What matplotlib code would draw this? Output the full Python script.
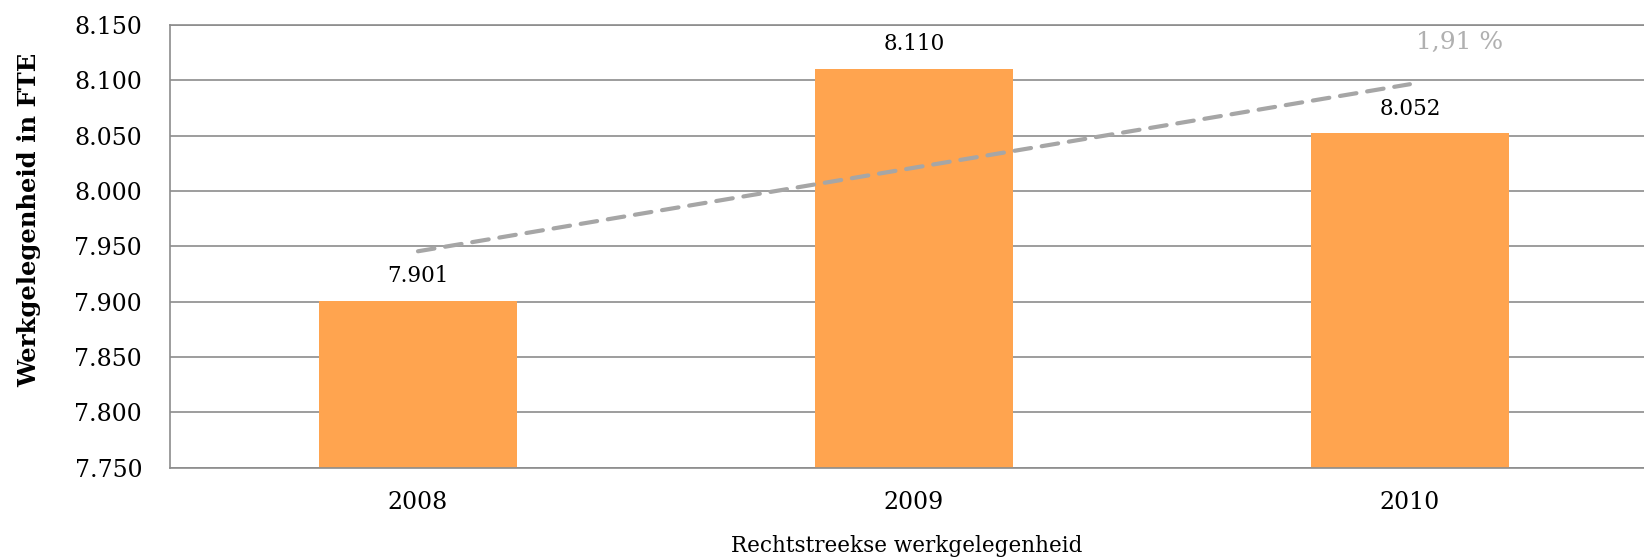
import numpy as np
import matplotlib
matplotlib.use("Agg")
import matplotlib.pyplot as plt

years = ["2008", "2009", "2010"]
fte = [7.901, 8.110, 8.052]
fte_labels = ["7.901", "8.110", "8.052"]
y_ticks = [7.750, 7.800, 7.850, 7.900, 7.950, 8.000, 8.050, 8.100, 8.150]
y_tick_labels = ["7.750", "7.800", "7.850", "7.900", "7.950", "8.000", "8.050", "8.100", "8.150"]
growth_label = "1,91 %"

plt.rcParams["font.family"] = ["DejaVu Serif"]

fig = plt.figure(figsize=(16.44, 5.57), dpi=100)
W, H = 1644, 557
ax = fig.add_axes([170 / W, 1 - 467.6 / H, (1644 - 170) / W, (467.6 - 25) / H])

x = np.arange(len(years))
ax.bar(x, fte, width=0.4, color="#FFA44F", zorder=2)

# linear trend through the three years
slope, icpt = np.polyfit(x, fte, 1)
ax.plot([x[0], x[-1]], [icpt, icpt + slope * x[-1]], color="#A6A6A6",
        lw=3.0, ls=(0, (4, 2.6)), dash_capstyle="round", zorder=3)

for xi, v, lab in zip(x, fte, fte_labels):
    ax.text(xi, v + 0.0225, lab, ha="center", va="center", fontsize=15.5, color="black")

ax.text(2.1, 8.1346, growth_label, ha="center", va="center", fontsize=18, color="#B0B0B0")

ax.set_ylim(7.75, 8.15)
ax.set_xlim(-0.5, 2.472)
ax.set_yticks(y_ticks)
ax.set_yticklabels(y_tick_labels, fontsize=17)
ax.set_xticks(x)
ax.set_xticklabels(years, fontsize=17)
ax.tick_params(length=0)
ax.tick_params(axis="y", pad=20)
ax.tick_params(axis="x", pad=17)

ax.grid(axis="y", color="#8C8C8C", lw=1.2, zorder=0)
ax.spines["right"].set_visible(False)
for s in ["left", "bottom", "top"]:
    ax.spines[s].set_color("#8C8C8C")
    ax.spines[s].set_linewidth(1.2)

ax.set_ylabel("Werkgelegenheid in FTE", fontsize=17.5, fontweight="bold")
ax.yaxis.set_label_coords(-0.0875, 0.559)
ax.set_xlabel("Rechtstreekse werkgelegenheid", fontsize=15.5)
ax.xaxis.set_label_coords(0.5, -0.152)

fig.savefig("out.png", dpi=100)
